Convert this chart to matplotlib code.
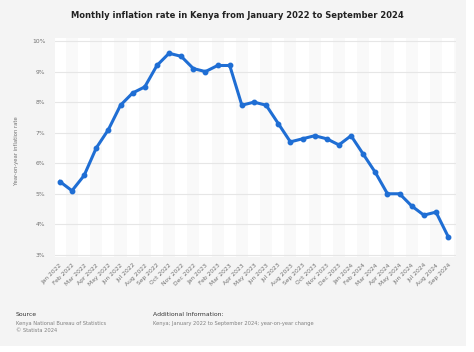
import matplotlib.pyplot as plt
from matplotlib.patches import Rectangle

MONTHS = ['Jan', 'Feb', 'Mar', 'Apr', 'May', 'Jun', 'Jul', 'Aug', 'Sep', 'Oct', 'Nov', 'Dec']
labels = [f'{m} {y}' for y in (2022, 2023, 2024) for m in MONTHS][:33]
inflation = [5.4, 5.1, 5.6, 6.5, 7.1, 7.9, 8.3, 8.5, 9.2, 9.6, 9.5, 9.1,
             9.0, 9.2, 9.2, 7.9, 8.0, 7.9, 7.3, 6.7, 6.8, 6.9, 6.8, 6.6,
             6.9, 6.3, 5.7, 5.0, 5.0, 4.6, 4.3, 4.4, 3.6]
yticks = [3, 4, 5, 6, 7, 8, 9, 10]

BG = '#f4f4f4'
LINE = '#1f6ed4'
GREY = '#707070'

fig = plt.figure(figsize=(4.74, 3.52), dpi=100, facecolor='white')
fig.patches.append(Rectangle((0, 1 - 346 / 352), 466 / 474, 346 / 352,
                             transform=fig.transFigure, facecolor=BG,
                             edgecolor='none', zorder=-10))

ax = fig.add_axes([55 / 474, 1 - 257 / 352, 401 / 474, 219 / 352])
ax.set_facecolor('#f9f9f9')
for i in range(len(labels)):
    if i % 2 == 0:
        ax.axvspan(i - 0.5, i + 0.5, color='white', lw=0, zorder=0)

x = list(range(len(labels)))
ax.plot(x, inflation, color=LINE, lw=2.2, marker='o', ms=3.2, zorder=3,
        solid_joinstyle='round')

ax.set_xlim(-0.4, 32.65)
ax.set_ylim(2.93, 10.1)
ax.set_yticks(yticks)
ax.set_yticklabels([f'{v}%' for v in yticks])
ax.set_xticks(x)
ax.set_xticklabels(labels, rotation=45, ha='right', rotation_mode='anchor')
ax.tick_params(axis='both', length=0, labelsize=4.3, colors=GREY)
ax.tick_params(axis='y', pad=7)
ax.tick_params(axis='x', pad=4)
ax.grid(axis='y', color='#e6e6e6', lw=0.8)
ax.set_axisbelow(True)
for s in ax.spines.values():
    s.set_visible(False)

fig.text(17 / 474, 1 - 151 / 352, 'Year-on-year inflation rate', rotation=90,
         ha='center', va='center', fontsize=3.8, color=GREY)

fig.text(237 / 474, 1 - 16 / 352,
         'Monthly inflation rate in Kenya from January 2022 to September 2024',
         ha='center', va='center', fontsize=6.0, fontweight='bold', color='#222222')

fig.text(16 / 474, 1 - 315 / 352, 'Source', fontsize=4.4, color='#333333', va='center')
fig.text(16 / 474, 1 - 323 / 352, 'Kenya National Bureau of Statistics',
         fontsize=3.7, color='#808080', va='center')
fig.text(16 / 474, 1 - 331 / 352, '\u00a9 Statista 2024', fontsize=3.7,
         color='#808080', va='center')
fig.text(153 / 474, 1 - 315 / 352, 'Additional Information:', fontsize=4.4,
         color='#333333', va='center')
fig.text(153 / 474, 1 - 323 / 352,
         'Kenya; January 2022 to September 2024; year-on-year change',
         fontsize=3.7, color='#808080', va='center')

fig.savefig('out.png', dpi=100, facecolor=fig.get_facecolor())
